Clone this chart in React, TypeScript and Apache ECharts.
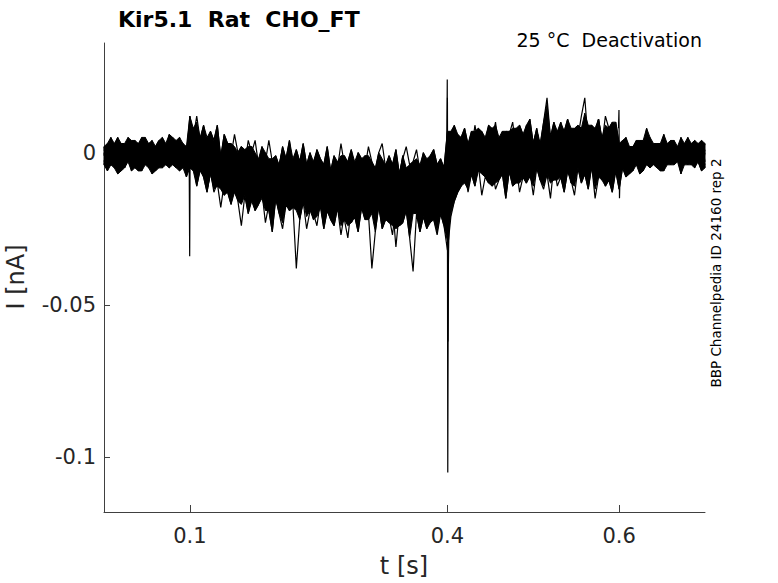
import React, { useEffect, useRef } from "react";
import * as echarts from "echarts";

// sample spacing (s) and segment start times (s)
const dt = 0.004;
const segStarts = [0, 0.1, 0.4, 0.6];

// currents in pA, one row per sweep (6 sweeps)
const seg0to100ms = [
  [-1, 3, -4, 2, 5, -3, 0, 4, -6, 1, 3, -2, 5, -5, 2, 0, -3, 4, -1, 6, -4, 2, -2, 3, -1],
  [2, -5, 1, -2, 4, -6, 3, -1, 2, -4, 0, 5, -3, 1, -7, 2, 4, -2, 0, -5, 3, -1, 5, -3, 1],
  [-3, 1, 4, -5, 0, 2, -2, 5, -4, -1, 3, -6, 2, 0, 4, -3, 1, -5, 3, -2, 0, 4, -6, 1, -3],
  [0, -6, 2, 3, -3, 1, -5, 2, 0, 4, -4, 1, -2, 3, -5, 2, -1, 5, -4, 0, 2, -3, 3, -5, 0],
  [-4, 2, -1, 0, -7, 3, 1, -3, 4, -5, 2, -1, -4, 3, 0, -6, 2, 1, -3, 4, -2, -5, 1, 0, -8],
  [1, -2, 5, -4, 2, -1, -5, 3, -2, 0, -6, 4, -1, 2, -3, 1, -5, 3, -2, -4, 5, -1, 0, -3, 2],
];

const seg100to400ms = [
  [12, 5, 12, 4, 9, 2, 7, 4, 9, -2, 6, 3, -1, 6, 0, 2, -4, 4, 0, 4, -4, 2, -3, 4, -3, -1, -5, 2, -2, 4,
   -6, 1, -3, 3, -4, 0, -7, 1, -2, -4, 2, -6, -1, -5, 3, -4, -3, 1, -7, 0, -2, -5, 2, -3, -6, 0, 3, -5, -1, -4,
   1, -7, -2, 2, -4, -3, 1, -6, 0, -8, -1, 1, -4, -2, -5],
  [2, 8, 3, 5, -3, 5, 1, -3, 6, -2, 1, -4, 3, -7, 0, -2, 1, -5, 2, -7, -2, -4, 0, -9, -2, -7, -4, 1, -8, -3,
   -2, -7, -10, -1, -5, -8, -3, 0, -6, -9, -2, -11, -4, -3, -8, -1, -7, -11, -3, -6, -8, -1, -10, -5, -7, -3, -11, -4, -2, -9,
   -6, -8, -1, -12, -5, -3, -10, -4, -7, -2, -11, -6, -4, -9, -5],
  [8, 0, 1, -3, 3, 0, -6, 2, -3, -1, -6, 1, -10, -5, -2, -7, -2, -10, -5, -7, -2, -10, -5, -12, -7, -4, -10, -5, -14, -7,
   -9, -4, -12, -7, -14, -4, -9, -13, -6, -11, -8, -14, -5, -9, -12, -7, -15, -4, -11, -7, -14, -10, -8, -13, -5, -15, -9, -12, -6, -11,
   -16, -7, -10, -14, -5, -12, -9, -13, -7, -15, -8, -10, -14, -6, -12],
  [-1, 5, -5, -1, 0, -8, -2, -5, -8, -2, -7, -12, -4, -7, -12, -3, -11, -9, -16, -7, -8, -13, -7, -12, -16, -9, -10, -16, -7, -14,
   -12, -9, -18, -10, -13, -9, -16, -12, -18, -8, -15, -13, -10, -17, -12, -19, -9, -14, -11, -17, -9, -18, -14, -12, -19, -11, -15, -17, -10, -16,
   -13, -20, -9, -14, -17, -12, -18, -11, -15, -19, -10, -16, -13, -18, -11],
  [2, -6, -2, -6, 0, -12, -7, -5, -11, -5, -14, -9, -7, -13, -15, -10, -7, -16, -13, -19, -10, -15, -12, -19, -26, -15, -19, -14, -10, -19,
   -18, -12, -21, -16, -14, -17, -22, -14, -16, -21, -12, -19, -20, -15, -17, -22, -28, -18, -14, -23, -16, -15, -22, -13, -20, -18, -21, -14, -23, -17,
   -31, -19, -22, -16, -24, -13, -18, -20, -15, -21, -23, -14, -19, -16, -22],
  [-5, -2, -11, -5, -8, -13, -6, -13, -10, -18, -10, -13, -17, -9, -16, -24, -14, -20, -14, -19, -17, -13, -23, -17, -21, -15, -20, -25, -17, -19,
   -17, -38, -22, -16, -25, -19, -20, -24, -16, -25, -19, -22, -24, -18, -27, -20, -17, -23, -21, -26, -18, -22, -20, -38, -26, -17, -25, -22, -21, -27,
   -18, -24, -23, -19, -28, -39, -20, -26, -21, -25, -17, -22, -27, -20, -24],
];

const seg400to600ms = [
  [7, 2, 9, 0, 5, 8, 2, 7, 0, 8, 5, 3, 9, 4, 10, 1, 7, 2, 6, 10, 1, 9, 6, 4, 11, 3, 7, 2, 10, 18,
   5, 10, 2, 9, 7, 11, 4, 8, 5, 12, 18, 3, 9, 6, 11, 3, 12, 8, 5, 10],
  [0, 7, 2, 6, -2, 5, 3, 0, 9, 3, 7, 0, 5, 8, 2, 4, -1, 7, 6, 1, 8, 3, 0, 9, 4, 3, 8, 0, 6, 9,
   2, 7, 4, 10, 1, 5, 8, 3, 9, 0, 6, 9, 3, 6, 11, 4, 2, 8, 10, 5],
  [-8, -3, 2, -4, 4, 1, -1, 6, -3, 3, 0, 5, -2, 2, -3, 5, 3, 0, 7, -2, 4, 2, -1, 6, 1, -3, 5, 3, 0, 6,
   -2, 2, 7, -1, 4, 1, -3, 7, 4, 1, 6, -1, 3, 8, 0, 5, 2, 7, -2, 4],
  [-15, -8, -5, 2, -7, -1, 1, -4, -2, -6, 3, -3, 0, -5, 2, -7, -2, 1, -4, -1, -6, 3, -3, 0, -5, -2, 3, -7, 0, 2,
   -3, -5, 4, -1, -2, 2, -6, 1, 3, -4, -1, 0, -5, 4, -3, 2, -2, -6, 1, -1],
  [-22, -13, -9, -7, -2, -10, -5, -1, -7, -6, 0, -8, -4, -11, -3, -1, -6, -9, -2, -5, -10, -3, -1, -7, -8, -4, 1, -9, -4, -5,
   -1, -9, -2, -3, -7, 0, -10, -4, -2, -6, 1, -8, -3, -5, -1, -9, -4, 0, -7, -2],
  [-32, -21, -16, -13, -11, -6, -13, -7, -11, -4, -14, -8, -10, -5, -12, -9, -7, -15, -6, -11, -4, -13, -8, -10, -6, -14, -5, -9, -12, -7,
   -15, -4, -11, -8, -13, -6, -9, -14, -5, -10, -7, -12, -4, -15, -8, -5, -11, -9, -13, -6],
];

const seg600to700ms = [
  [3, -2, 5, -4, 1, 4, -3, 2, 0, -5, 3, 1, -2, 4, -4, 2, 0, -3, 5, -1, -4, 3, -2, 1, 4, -3],
  [-1, 4, -3, 2, -5, 3, 0, -2, 8, -4, 1, 3, -5, 2, -1, 4, -3, 0, 2, -4, 5, -2, -1, 3, -5, 1],
  [-4, 1, 3, -6, 2, -1, 4, -3, 0, 5, -4, 2, -2, 6, -1, -3, 3, 0, -5, 2, 1, -3, 4, -2, 0, -4],
  [-6, 2, -3, 1, -5, 3, -1, 4, -4, 0, 2, -5, 3, -2, 1, -4, 4, -1, -3, 3, -2, 0, -5, 2, -1, 3],
  [-9, -3, 0, -7, 2, -4, 1, -6, 3, -2, -4, 1, -6, 0, 3, -3, -1, 2, -5, 1, 3, -4, 0, -2, 2, -5],
  [-12, -5, -8, -2, -6, 1, -7, -3, 2, -5, 0, -3, 1, -6, -1, 2, -4, 0, -7, 1, -2, -4, 2, -3, -6, 0],
];

// capacitive transients at the voltage steps: [t (s), I (pA)]
const transientStep1 = [[0.0992, -2], [0.0998, -34], [0.1004, 6], [0.101, 10]];
const transientStep2a = [[0.3992, -3], [0.3998, 24], [0.4004, -105], [0.401, -40], [0.4018, -22]];
const transientStep2b = [[0.3994, -8], [0.4, 18], [0.4006, -62], [0.4012, -30], [0.402, -18]];
const transientStep3 = [[0.5992, 8], [0.5998, 14], [0.6004, -15], [0.601, -8]];

const xTicks = [0.1, 0.4, 0.6];
const yTicks = [-0.1, -0.05, 0];

const segments = [seg0to100ms, seg100to400ms, seg400to600ms, seg600to700ms];

export default function App() {
  const ref = useRef<HTMLDivElement>(null);
  useEffect(() => {
    if (!ref.current) return;
    const chart = echarts.init(ref.current, null, { renderer: "svg" });
    const nSweeps = seg0to100ms.length;
    const sweepSeries = seg0to100ms.map((_, k) => ({
      type: "line",
      data: segments.flatMap((seg, s) =>
        seg[k].map((v, i) => [segStarts[s] + i * dt, v / 1000])
      ),
      showSymbol: false,
      symbol: "none",
      lineStyle: { color: "#000", width: 1.2 },
      silent: true,
      z: 2,
    }));
    // region covered by the overlapping sweeps; isolated spikes are left as thin lines
    const upperPts: number[][] = [];
    const lowerPts: number[][] = [];
    segments.forEach((seg, s) => {
      const n = Math.min(...seg.map((row) => row.length));
      for (let i = 0; i < n; i++) {
        const vals = seg.map((row) => row[i]).sort((a, b) => a - b);
        const t = segStarts[s] + i * dt;
        const hi = Math.min(vals[nSweeps - 1], vals[nSweeps - 2] + 7);
        const lo = Math.max(vals[0], vals[1] - 7);
        upperPts.push([t, hi / 1000]);
        lowerPts.push([t, lo / 1000]);
      }
    });
    const coreSeries = {
      type: "custom",
      data: [[0.35, 0]],
      silent: true,
      z: 1,
      renderItem: (_params: any, api: any) => {
        const up = upperPts.map((p) => api.coord(p));
        const lo = lowerPts.map((p) => api.coord(p)).reverse();
        return {
          type: "polygon",
          shape: { points: [...up, ...lo] },
          style: { fill: "#000", stroke: "#000", lineWidth: 1 },
        };
      },
    };
    const transSeries = [transientStep1, transientStep2a, transientStep2b, transientStep3].map((tr) => ({
      type: "line",
      data: tr.map(([t, v]) => [t, v / 1000]),
      showSymbol: false,
      symbol: "none",
      lineStyle: { color: "#000", width: 1.2 },
      silent: true,
      z: 3,
    }));
    const font = '"DejaVu Sans", sans-serif';
    chart.setOption({
      animation: false,
      backgroundColor: "#fff",
      grid: { left: 104, right: 73, top: 43, bottom: 71, containLabel: false },
      xAxis: {
        type: "value",
        min: 0,
        max: 0.7,
        axisLine: { show: true, onZero: false, lineStyle: { color: "#404040", width: 1 } },
        axisTick: { show: true, inside: true, length: 7, customValues: xTicks, lineStyle: { color: "#404040" } },
        axisLabel: { customValues: xTicks, color: "#262626", fontSize: 21, fontFamily: font, margin: 13 },
        splitLine: { show: false },
      },
      yAxis: {
        type: "value",
        min: -0.118,
        max: 0.036,
        axisLine: { show: true, onZero: false, lineStyle: { color: "#404040", width: 1 } },
        axisTick: { show: true, inside: true, length: 6, customValues: yTicks, lineStyle: { color: "#404040" } },
        axisLabel: { customValues: yTicks, color: "#262626", fontSize: 21, fontFamily: font, margin: 8 },
        splitLine: { show: false },
      },
      graphic: [
        {
          type: "text",
          x: 118,
          y: 19,
          style: { text: "Kir5.1  Rat  CHO_FT", font: 'bold 22px "DejaVu Sans"', fill: "#000", align: "left", verticalAlign: "middle", textAlign: "left", textVerticalAlign: "middle" },
        },
        {
          type: "text",
          x: 702,
          y: 40,
          style: { text: "25 °C  Deactivation", font: '19px "DejaVu Sans"', fill: "#000", align: "right", verticalAlign: "middle", textAlign: "right", textVerticalAlign: "middle" },
        },
        {
          type: "text",
          x: 404,
          y: 566,
          style: { text: "t [s]", font: '24px "DejaVu Sans"', fill: "#262626", align: "center", verticalAlign: "middle", textAlign: "center", textVerticalAlign: "middle" },
        },
        {
          type: "text",
          x: 16,
          y: 277,
          rotation: Math.PI / 2,
          style: { text: "I [nA]", font: '24px "DejaVu Sans"', fill: "#262626", align: "center", verticalAlign: "middle", textAlign: "center", textVerticalAlign: "middle" },
        },
        {
          type: "text",
          x: 716,
          y: 273,
          rotation: Math.PI / 2,
          style: { text: "BBP Channelpedia ID 24160 rep 2", font: '13.5px "DejaVu Sans"', fill: "#000", align: "center", verticalAlign: "middle", textAlign: "center", textVerticalAlign: "middle" },
        },
      ],
      series: [coreSeries, ...sweepSeries, ...transSeries],
    });
    return () => chart.dispose();
  }, []);
  return (
    <div
      ref={ref}
      style={{ position: "absolute", left: 0, top: 0, width: 778, height: 583 }}
    />
  );
}
